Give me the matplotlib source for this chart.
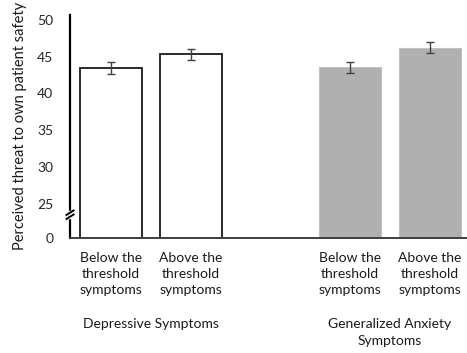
import matplotlib
matplotlib.use("Agg")
import matplotlib.pyplot as plt
import numpy as np

# values
cat_labels = ["Below the\nthreshold\nsymptoms", "Above the\nthreshold\nsymptoms",
              "Below the\nthreshold\nsymptoms", "Above the\nthreshold\nsymptoms"]
positions = [0, 1, 3, 4]
means = [43.45, 45.35, 43.55, 46.2]
errors = [0.75, 0.75, 0.77, 0.77]
group_labels = ["Depressive Symptoms", "Generalized Anxiety\nSymptoms"]
group_centers = [0.5, 3.5]
yticks = [25, 30, 35, 40, 45, 50]

BASE = 20.35  # where the broken axis puts 0

plt.rcParams['font.family'] = ['Lato', 'DejaVu Sans']
fig = plt.figure(figsize=(4.67, 3.53), dpi=100)
ax = fig.add_axes([0.150, 0.326, 0.85, 0.632])

face = ['white', 'white', '#b0b0b0', '#b0b0b0']
edge = ['#1a1a1a', '#1a1a1a', '#c0c0c0', '#c0c0c0']
lw = [1.3, 1.3, 0.8, 0.8]
heights = [m - BASE for m in means]
ax.bar(positions, heights, bottom=BASE, width=0.78, color=face,
       edgecolor=edge, linewidth=lw, zorder=2)
ax.errorbar(positions, means, yerr=errors, fmt='none', ecolor='#404040',
            elinewidth=1.0, capsize=3, capthick=1.0, zorder=3)

ax.set_xlim(-0.515, 4.47)
ax.set_ylim(BASE, 50.68)
ax.set_yticks([BASE] + yticks)
ax.set_yticklabels(["0"] + [str(t) for t in yticks])
ax.tick_params(axis='y', length=0, pad=12, labelsize=10, colors='#262626')
ax.set_xticks([])

for s in ['top', 'right']:
    ax.spines[s].set_visible(False)
ax.spines['left'].set_color('#000000')
ax.spines['left'].set_linewidth(1.6)
ax.spines['bottom'].set_color('#404040')
ax.spines['bottom'].set_linewidth(1.4)

# break marks on the y axis
trans = ax.transAxes
ax.plot([0, 0], [0.092, 0.118], color='white', lw=2.5, transform=trans,
        clip_on=False, zorder=4)
for dy in (0.0, 0.018):
    y0 = 0.085 + dy
    ax.plot([-0.009, 0.009], [y0, y0 + 0.02], color='black', lw=1.4,
            transform=trans, clip_on=False, zorder=5)

ax.set_ylabel("Perceived threat to own patient safety", fontsize=10.5,
              color='#1a1a1a', labelpad=7)

for p, lab in zip(positions, cat_labels):
    ax.text(p, -0.065, lab, transform=ax.get_xaxis_transform(), ha='center',
            va='top', fontsize=10, color='#1a1a1a', linespacing=1.4)
for c, lab in zip(group_centers, group_labels):
    ax.text(c, -0.36, lab, transform=ax.get_xaxis_transform(), ha='center',
            va='top', fontsize=10, color='#1a1a1a', linespacing=1.5)

fig.savefig("out.png", dpi=100)
